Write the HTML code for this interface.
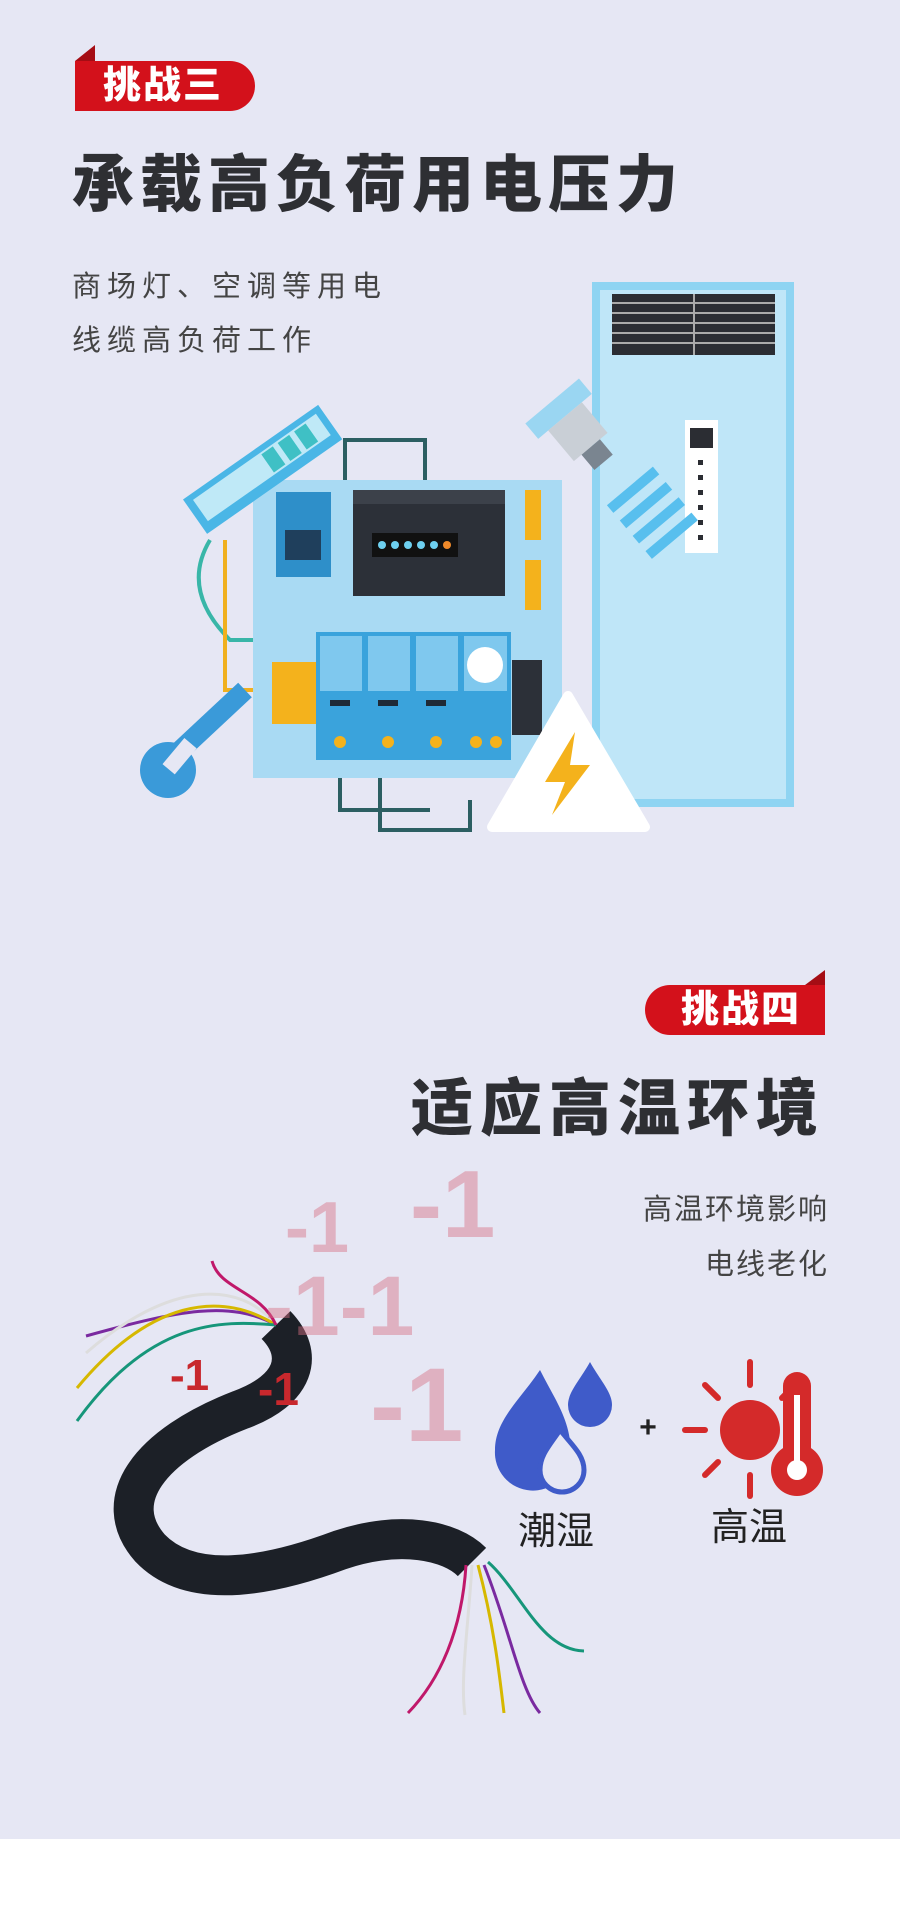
<!DOCTYPE html>
<html><head><meta charset="utf-8"><style>
html,body{margin:0;padding:0}
body{width:900px;height:1907px;position:relative;background:#e6e7f4;overflow:hidden;font-family:"Liberation Sans","Noto Sans CJK SC",sans-serif}
.a{position:absolute;white-space:nowrap}
.tag{background:#d3111b;color:#fff;font-weight:900;font-size:38px;line-height:50px;height:50px}
.t{font-weight:900;color:#2e2f33}
.s{color:#444;font-size:29px}
</style></head><body>
<div class="a" style="left:0;top:1839px;width:900px;height:68px;background:#fff"></div>
<svg class="a" style="left:0;top:0" width="900" height="1907" viewBox="0 0 900 1907">
<polygon points="75,61 95,45 95,61" fill="#a50d14"/>
<polygon points="805,985 825,970 825,985" fill="#a50d14"/>
<rect x="596" y="286" width="194" height="517" fill="#bfe6f8" stroke="#8fd4f2" stroke-width="8"/>
<rect x="612" y="294" width="163" height="61" fill="#2b2d33"/>
<g stroke="#aaa" stroke-width="2"><line x1="612" y1="303" x2="775" y2="303"/><line x1="612" y1="313" x2="775" y2="313"/><line x1="612" y1="323" x2="775" y2="323"/><line x1="612" y1="333" x2="775" y2="333"/><line x1="612" y1="343" x2="775" y2="343"/><line x1="694" y1="294" x2="694" y2="355"/></g>
<rect x="685" y="420" width="33" height="133" fill="#fff"/>
<rect x="690" y="428" width="23" height="20" fill="#2b2d33"/>
<g fill="#2b2d33"><rect x="698" y="460" width="5" height="5"/><rect x="698" y="475" width="5" height="5"/><rect x="698" y="490" width="5" height="5"/><rect x="698" y="505" width="5" height="5"/><rect x="698" y="520" width="5" height="5"/><rect x="698" y="535" width="5" height="5"/></g>
<g fill="none" stroke="#2c5f62" stroke-width="4">
<path d="M345 480 V440 H425 V480"/><path d="M380 778 V830 H470 V800"/><path d="M340 778 V810 H430"/><path d="M490 620 H530 V680"/>
</g>
<path d="M210 540 Q180 590 230 640 H260" fill="none" stroke="#39b6a8" stroke-width="4"/>
<path d="M225 540 V690 H260" fill="none" stroke="#f0b01e" stroke-width="4"/>
<rect x="253" y="480" width="309" height="298" fill="#a9daf3"/>
<rect x="276" y="492" width="55" height="85" fill="#2e8fc9"/>
<rect x="285" y="530" width="36" height="30" fill="#1f3f5c"/>
<rect x="353" y="490" width="152" height="106" fill="#2c3038"/>
<rect x="353" y="490" width="152" height="14" fill="#3c414a"/>
<rect x="372" y="533" width="86" height="24" fill="#111"/>
<g fill="#6ed0f0"><circle cx="382" cy="545" r="4"/><circle cx="395" cy="545" r="4"/><circle cx="408" cy="545" r="4"/><circle cx="421" cy="545" r="4"/><circle cx="434" cy="545" r="4"/></g>
<circle cx="447" cy="545" r="4" fill="#f08a2a"/>
<rect x="525" y="490" width="16" height="50" fill="#f4b21c"/>
<rect x="525" y="560" width="16" height="50" fill="#f4b21c"/>
<rect x="272" y="662" width="48" height="62" fill="#f4b21c"/>
<rect x="316" y="632" width="195" height="128" fill="#3aa3dc"/>
<g fill="#7fc8ee"><rect x="320" y="636" width="42" height="55"/><rect x="368" y="636" width="42" height="55"/><rect x="416" y="636" width="42" height="55"/><rect x="464" y="636" width="43" height="55"/></g>
<g fill="#1f2a36"><rect x="330" y="700" width="20" height="6"/><rect x="378" y="700" width="20" height="6"/><rect x="426" y="700" width="20" height="6"/></g>
<g fill="#f4b21c"><circle cx="340" cy="742" r="6"/><circle cx="388" cy="742" r="6"/><circle cx="436" cy="742" r="6"/><circle cx="476" cy="742" r="6"/><circle cx="496" cy="742" r="6"/></g>
<circle cx="485" cy="665" r="18" fill="#fff"/>
<rect x="512" y="660" width="30" height="75" fill="#2c3038"/>
<g transform="rotate(-35 260 470)"><rect x="180" y="450" width="165" height="42" fill="#4ab6e6"/><rect x="188" y="456" width="150" height="26" fill="#bfe9f7"/><g fill="#3fc0c5"><rect x="270" y="458" width="14" height="22"/><rect x="290" y="458" width="14" height="22"/><rect x="310" y="458" width="14" height="22"/></g></g>
<path d="M170 760 L245 690" stroke="#3a9ad9" stroke-width="20"/>
<circle cx="168" cy="770" r="28" fill="#3a9ad9"/><rect x="160" y="735" width="16" height="34" fill="#e6e7f4" transform="rotate(40 168 770)"/>
<g transform="rotate(-40 610 470)"><rect x="575" y="380" width="70" height="20" fill="#9ad6f2"/><rect x="588" y="400" width="44" height="40" fill="#c9cfd6"/><rect x="598" y="440" width="24" height="20" fill="#7a8590"/><path d="M585 500 h60 M585 520 h60 M585 540 h60 M585 560 h60" stroke="#58bfee" stroke-width="10"/></g>
<polygon points="568,696 645,827 492,827" fill="#fff" stroke="#fff" stroke-linejoin="round" stroke-width="10"/>
<polygon points="575,732 545,782 565,782 552,815 590,765 570,765" fill="#f4b21c"/>
<!-- cable -->
<path d="M276 1325 C305 1355 295 1390 240 1410 C150 1445 108 1500 150 1548 C190 1590 265 1578 340 1550 C400 1530 450 1540 472 1562" fill="none" stroke="#1c2027" stroke-width="40"/>
<g fill="none" stroke-width="3">
<path d="M276 1325 C230 1300 180 1310 86 1336" stroke="#7a2aa0"/>
<path d="M276 1325 C240 1280 170 1280 86 1353" stroke="#ddd"/>
<path d="M276 1325 C220 1290 150 1300 77 1388" stroke="#d6b800"/>
<path d="M276 1325 C220 1320 150 1320 77 1421" stroke="#16967a"/>
<path d="M276 1325 C260 1290 220 1290 212 1261" stroke="#c0186a"/>
<path d="M466 1565 C462 1630 440 1680 408 1713" stroke="#c0186a"/>
<path d="M472 1565 C468 1630 460 1680 465 1715" stroke="#ddd"/>
<path d="M478 1565 C495 1630 500 1680 504 1713" stroke="#d6b800"/>
<path d="M484 1565 C510 1630 520 1690 540 1713" stroke="#7a2aa0"/>
<path d="M488 1562 C520 1590 540 1650 584 1651" stroke="#16967a"/>
</g>
<g font-family="Liberation Sans" font-weight="bold" fill="rgba(215,110,130,0.45)">
<text x="285" y="1252" font-size="72">-1</text>
<text x="410" y="1237" font-size="96">-1</text>
<text x="265" y="1335" font-size="84">-1-1</text>
<text x="370" y="1441" font-size="105">-1</text>
</g>
<g font-family="Liberation Sans" font-weight="bold" fill="#c8282d">
<text x="170" y="1390" font-size="44">-1</text>
<text x="258" y="1405" font-size="46">-1</text>
</g>
<path d="M540 1370 C520 1400 495 1420 495 1450 A38 38 0 0 0 571 1455 C571 1420 555 1400 540 1370Z" fill="#3f5bc9"/>
<path d="M590 1362 C580 1380 568 1392 568 1405 A22 22 0 0 0 612 1405 C612 1392 600 1380 590 1362Z" fill="#3f5bc9"/>
<path d="M560 1430 C550 1445 540 1455 540 1470 A22 22 0 0 0 584 1470 C584 1455 572 1445 560 1430Z" fill="#e6e7f4" stroke="#3f5bc9" stroke-width="5"/>
<text x="648" y="1437" font-size="30" font-weight="bold" text-anchor="middle" fill="#222">+</text>
<circle cx="750" cy="1430" r="30" fill="#d42a2a"/>
<g stroke="#d42a2a" stroke-width="6" stroke-linecap="round"><line x1="750" y1="1362" x2="750" y2="1385"/><line x1="750" y1="1475" x2="750" y2="1496"/><line x1="685" y1="1430" x2="705" y2="1430"/><line x1="705" y1="1385" x2="718" y2="1398"/><line x1="705" y1="1475" x2="718" y2="1462"/><line x1="795" y1="1385" x2="782" y2="1398"/></g>
<rect x="783" y="1372" width="28" height="95" rx="14" fill="#d42a2a"/><circle cx="797" cy="1470" r="26" fill="#d42a2a"/><circle cx="797" cy="1470" r="10" fill="#fff"/><rect x="794" y="1395" width="6" height="70" fill="#fff"/>
</svg>
<div class="a tag" style="left:75px;top:61px;width:180px;border-radius:0 25px 25px 0;padding-left:28px;box-sizing:border-box;letter-spacing:2px">挑战三</div>
<div class="a t" style="left:72px;top:134px;font-size:62px;letter-spacing:6px">承载高负荷用电压力</div>
<div class="a s" style="left:72px;top:263px;letter-spacing:6px">商场灯、空调等用电</div>
<div class="a s" style="left:72px;top:317px;letter-spacing:6px">线缆高负荷工作</div>
<div class="a tag" style="left:645px;top:985px;width:180px;border-radius:25px 0 0 25px;padding-left:36px;box-sizing:border-box;letter-spacing:2px">挑战四</div>
<div class="a t" style="right:75px;top:1058px;font-size:62px;letter-spacing:7px">适应高温环境</div>
<div class="a s" style="right:71px;top:1186px;letter-spacing:2px">高温环境影响</div>
<div class="a s" style="right:71px;top:1241px;letter-spacing:2px">电线老化</div>
<div class="a" style="left:518px;top:1500px;font-size:38px;color:#222">潮湿</div>
<div class="a" style="left:711px;top:1496px;font-size:38px;color:#222">高温</div>
</body></html>
